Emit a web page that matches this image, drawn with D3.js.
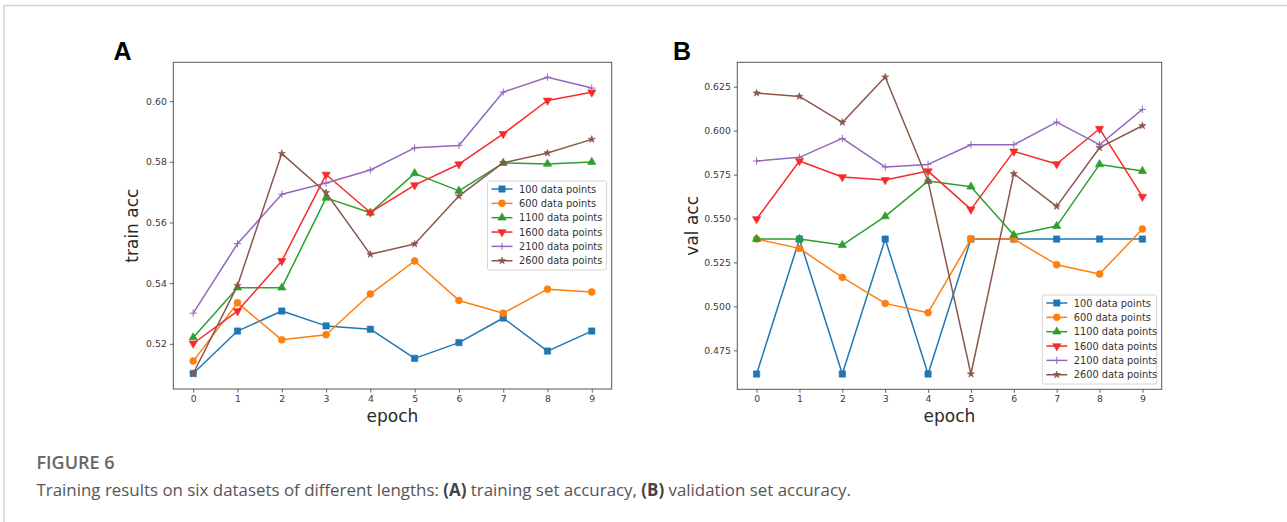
<!DOCTYPE html>
<html>
<head>
<meta charset="utf-8">
<script src="https://cdn.jsdelivr.net/npm/d3@7/dist/d3.min.js"></script>
<style>
  html, body { margin: 0; padding: 0; background: #fff; }
  svg { display: block; }
</style>
</head>
<body>
<svg id="fig" width="1287" height="522"></svg>
<script>
// ---- data ----
const epochs = [0, 1, 2, 3, 4, 5, 6, 7, 8, 9];
const seriesLabels = ["100 data points", "600 data points", "1100 data points",
                      "1600 data points", "2100 data points", "2600 data points"];
const seriesColors = ["#1f77b4", "#ff7f0e", "#2ca02c", "#f52a2a", "#9467bd", "#8c564b"];
const seriesMarkers = ["square", "circle", "triangleUp", "triangleDown", "plus", "star"];

// training accuracy per dataset size
const train100  = [0.5102, 0.5242, 0.5308, 0.5259, 0.5248, 0.5152, 0.5204, 0.5285, 0.5176, 0.5242];
const train600  = [0.5143, 0.5335, 0.5213, 0.5230, 0.5364, 0.5473, 0.5343, 0.5301, 0.5380, 0.5371];
const train1100 = [0.5221, 0.5385, 0.5385, 0.5681, 0.5632, 0.5762, 0.5704, 0.5796, 0.5793, 0.5799];
const train1600 = [0.5201, 0.5308, 0.5473, 0.5758, 0.5633, 0.5723, 0.5792, 0.5892, 0.6002, 0.6029];
const train2100 = [0.5301, 0.5530, 0.5693, 0.5730, 0.5773, 0.5846, 0.5854, 0.6030, 0.6079, 0.6043];
const train2600 = [0.5102, 0.5392, 0.5827, 0.5698, 0.5495, 0.5529, 0.5687, 0.5797, 0.5829, 0.5874];

// validation accuracy per dataset size
const val100  = [0.4615, 0.5383, 0.4615, 0.5383, 0.4615, 0.5383, 0.5383, 0.5383, 0.5383, 0.5383];
const val600  = [0.5383, 0.5330, 0.5165, 0.5017, 0.4964, 0.5383, 0.5383, 0.5237, 0.5184, 0.5440];
const val1100 = [0.5383, 0.5383, 0.5349, 0.5512, 0.5713, 0.5681, 0.5406, 0.5457, 0.5808, 0.5770];
const val1600 = [0.5497, 0.5827, 0.5736, 0.5719, 0.5770, 0.5552, 0.5882, 0.5810, 0.6011, 0.5624];
const val2100 = [0.5827, 0.5848, 0.5956, 0.5793, 0.5808, 0.5920, 0.5920, 0.6049, 0.5920, 0.6121];
const val2600 = [0.6214, 0.6195, 0.6047, 0.6305, 0.5713, 0.4615, 0.5755, 0.5569, 0.5903, 0.6028];

const trainTicks = [0.52, 0.54, 0.56, 0.58, 0.60];
const valTicks = [0.475, 0.500, 0.525, 0.550, 0.575, 0.600, 0.625];

const captionTitle = "FIGURE 6";

// ---- drawing ----
const svg = d3.select("#fig");
const FONT = "'DejaVu Sans', sans-serif";

// outer figure frame (top and left rules)
svg.append("line").attr("x1", 4).attr("x2", 1287).attr("y1", 5.5).attr("y2", 5.5)
  .attr("stroke", "#d2d2d2").attr("stroke-width", 1.5);
svg.append("line").attr("x1", 4).attr("x2", 4).attr("y1", 5).attr("y2", 522)
  .attr("stroke", "#d2d2d2").attr("stroke-width", 1.5);

function markerPath(kind) {
  switch (kind) {
    case "square": return d3.symbol(d3.symbolSquare, 40)();
    case "circle": return d3.symbol(d3.symbolCircle, 38)();
    case "triangleUp":
    case "triangleDown": return d3.symbol(d3.symbolTriangle, 30)();
    case "star": return d3.symbol(d3.symbolStar, 16)();
    case "plus": return "M-3.6,0H3.6M0,-3.6V3.6";
  }
}

function drawMarker(g, kind, color, x, y) {
  const p = g.append("path").attr("d", markerPath(kind))
    .attr("transform", `translate(${x},${y})` + (kind === "triangleDown" ? " rotate(180)" : ""));
  if (kind === "plus") {
    p.attr("fill", "none").attr("stroke", color).attr("stroke-width", 1);
  } else {
    p.attr("fill", color).attr("stroke", color).attr("stroke-width", 0.6);
  }
}

function panel(opts) {
  const { left, right, top, bottom, yDomain, ticks, tickFmt, series, yLabel,
          letter, letterX, yLabelX, legend } = opts;
  const g = svg.append("g");
  const x = d3.scaleLinear().domain([-0.45, 9.45]).range([left, right]);
  const y = d3.scaleLinear().domain(yDomain).range([bottom, top]);

  // panel letter
  g.append("text").attr("x", letterX).attr("y", 60)
    .attr("font-family", "'Liberation Sans', Arial, sans-serif").attr("font-weight", "bold")
    .attr("font-size", 25).attr("fill", "#000").text(letter);

  // axes
  const xAxis = d3.axisBottom(x).tickValues(epochs).tickFormat(d3.format("d"))
    .tickSize(3.5).tickPadding(3);
  const yAxis = d3.axisLeft(y).tickValues(ticks).tickFormat(d3.format(tickFmt))
    .tickSize(3.5).tickPadding(3);
  const gx = g.append("g").attr("transform", `translate(0,${bottom})`).call(xAxis);
  const gy = g.append("g").attr("transform", `translate(${left},0)`).call(yAxis);
  [gx, gy].forEach(a => {
    a.select(".domain").remove();
    a.selectAll(".tick line").attr("stroke", "#555").attr("stroke-width", 0.9);
    a.selectAll(".tick text").attr("font-family", FONT).attr("font-size", 9.3).attr("fill", "#3a3a3a");
  });

  // plotted series
  const line = d3.line().x((d, i) => x(epochs[i])).y(d => y(d));
  series.forEach((vals, si) => {
    const sg = g.append("g");
    sg.append("path").datum(vals).attr("d", line)
      .attr("fill", "none").attr("stroke", seriesColors[si]).attr("stroke-width", 1.5)
      .attr("stroke-linejoin", "round");
    vals.forEach((v, i) => drawMarker(sg, seriesMarkers[si], seriesColors[si], x(epochs[i]), y(v)));
  });

  // frame
  g.append("rect").attr("x", left).attr("y", top)
    .attr("width", right - left).attr("height", bottom - top)
    .attr("fill", "none").attr("stroke", "#555").attr("stroke-width", 1);

  // axis labels
  g.append("text").attr("x", (left + right) / 2).attr("y", 421.5)
    .attr("text-anchor", "middle").attr("font-family", FONT).attr("font-size", 17)
    .attr("fill", "#2a2a2a").text("epoch");
  g.append("text")
    .attr("transform", `translate(${yLabelX},${(top + bottom) / 2}) rotate(-90)`)
    .attr("text-anchor", "middle").attr("font-family", FONT).attr("font-size", 17)
    .attr("fill", "#2a2a2a").text(yLabel);

  // legend
  const lg = g.append("g");
  lg.append("rect").attr("x", legend.x).attr("y", legend.y)
    .attr("width", legend.w).attr("height", legend.h).attr("rx", 2)
    .attr("fill", "#fff").attr("fill-opacity", 0.85)
    .attr("stroke", "#d6d6d6").attr("stroke-width", 1);
  seriesLabels.forEach((lab, i) => {
    const ry = legend.y + 8 + i * 14.35;
    lg.append("line").attr("x1", legend.x + 4).attr("x2", legend.x + 25)
      .attr("y1", ry).attr("y2", ry).attr("stroke", seriesColors[i]).attr("stroke-width", 1.5);
    drawMarker(lg, seriesMarkers[i], seriesColors[i], legend.x + 14.5, ry);
    lg.append("text").attr("x", legend.x + 31.5).attr("y", ry + 3.5)
      .attr("font-family", FONT).attr("font-size", 9.8).attr("fill", "#333").text(lab);
  });
}

panel({
  left: 173.3, right: 611.7, top: 62.3, bottom: 389,
  yDomain: [0.5051, 0.6128], ticks: trainTicks, tickFmt: ".2f",
  series: [train100, train600, train1100, train1600, train2100, train2600],
  yLabel: "train acc", letter: "A", letterX: 113.5, yLabelX: 138,
  legend: { x: 487.5, y: 181, w: 119, h: 89 }
});

panel({
  left: 737.3, right: 1161.7, top: 62.3, bottom: 389.3,
  yDomain: [0.4528, 0.6389], ticks: valTicks, tickFmt: ".3f",
  series: [val100, val600, val1100, val1600, val2100, val2600],
  yLabel: "val acc", letter: "B", letterX: 673, yLabelX: 698,
  legend: { x: 1042.3, y: 295, w: 114.4, h: 89 }
});

// caption
const CAPFONT = "'Open Sans', 'Noto Sans', sans-serif";
svg.append("text").attr("x", 36.5).attr("y", 469)
  .attr("font-family", CAPFONT).attr("font-weight", 600).attr("font-size", 18)
  .attr("fill", "#666").text(captionTitle);

const cap = svg.append("text").attr("x", 0).attr("y", 0)
  .attr("font-family", CAPFONT).attr("font-size", 17).attr("fill", "#555");
cap.append("tspan").text("Training results on six datasets of different lengths: ");
cap.append("tspan").attr("font-weight", "bold").attr("fill", "#444").text("(A)");
cap.append("tspan").text(" training set accuracy, ");
cap.append("tspan").attr("font-weight", "bold").attr("fill", "#444").text("(B)");
cap.append("tspan").text(" validation set accuracy.");
const natural = cap.node().getComputedTextLength();
const sx = 815 / natural;
cap.attr("transform", `translate(36.5,495.5) scale(${sx},1)`);
</script>
</body>
</html>
